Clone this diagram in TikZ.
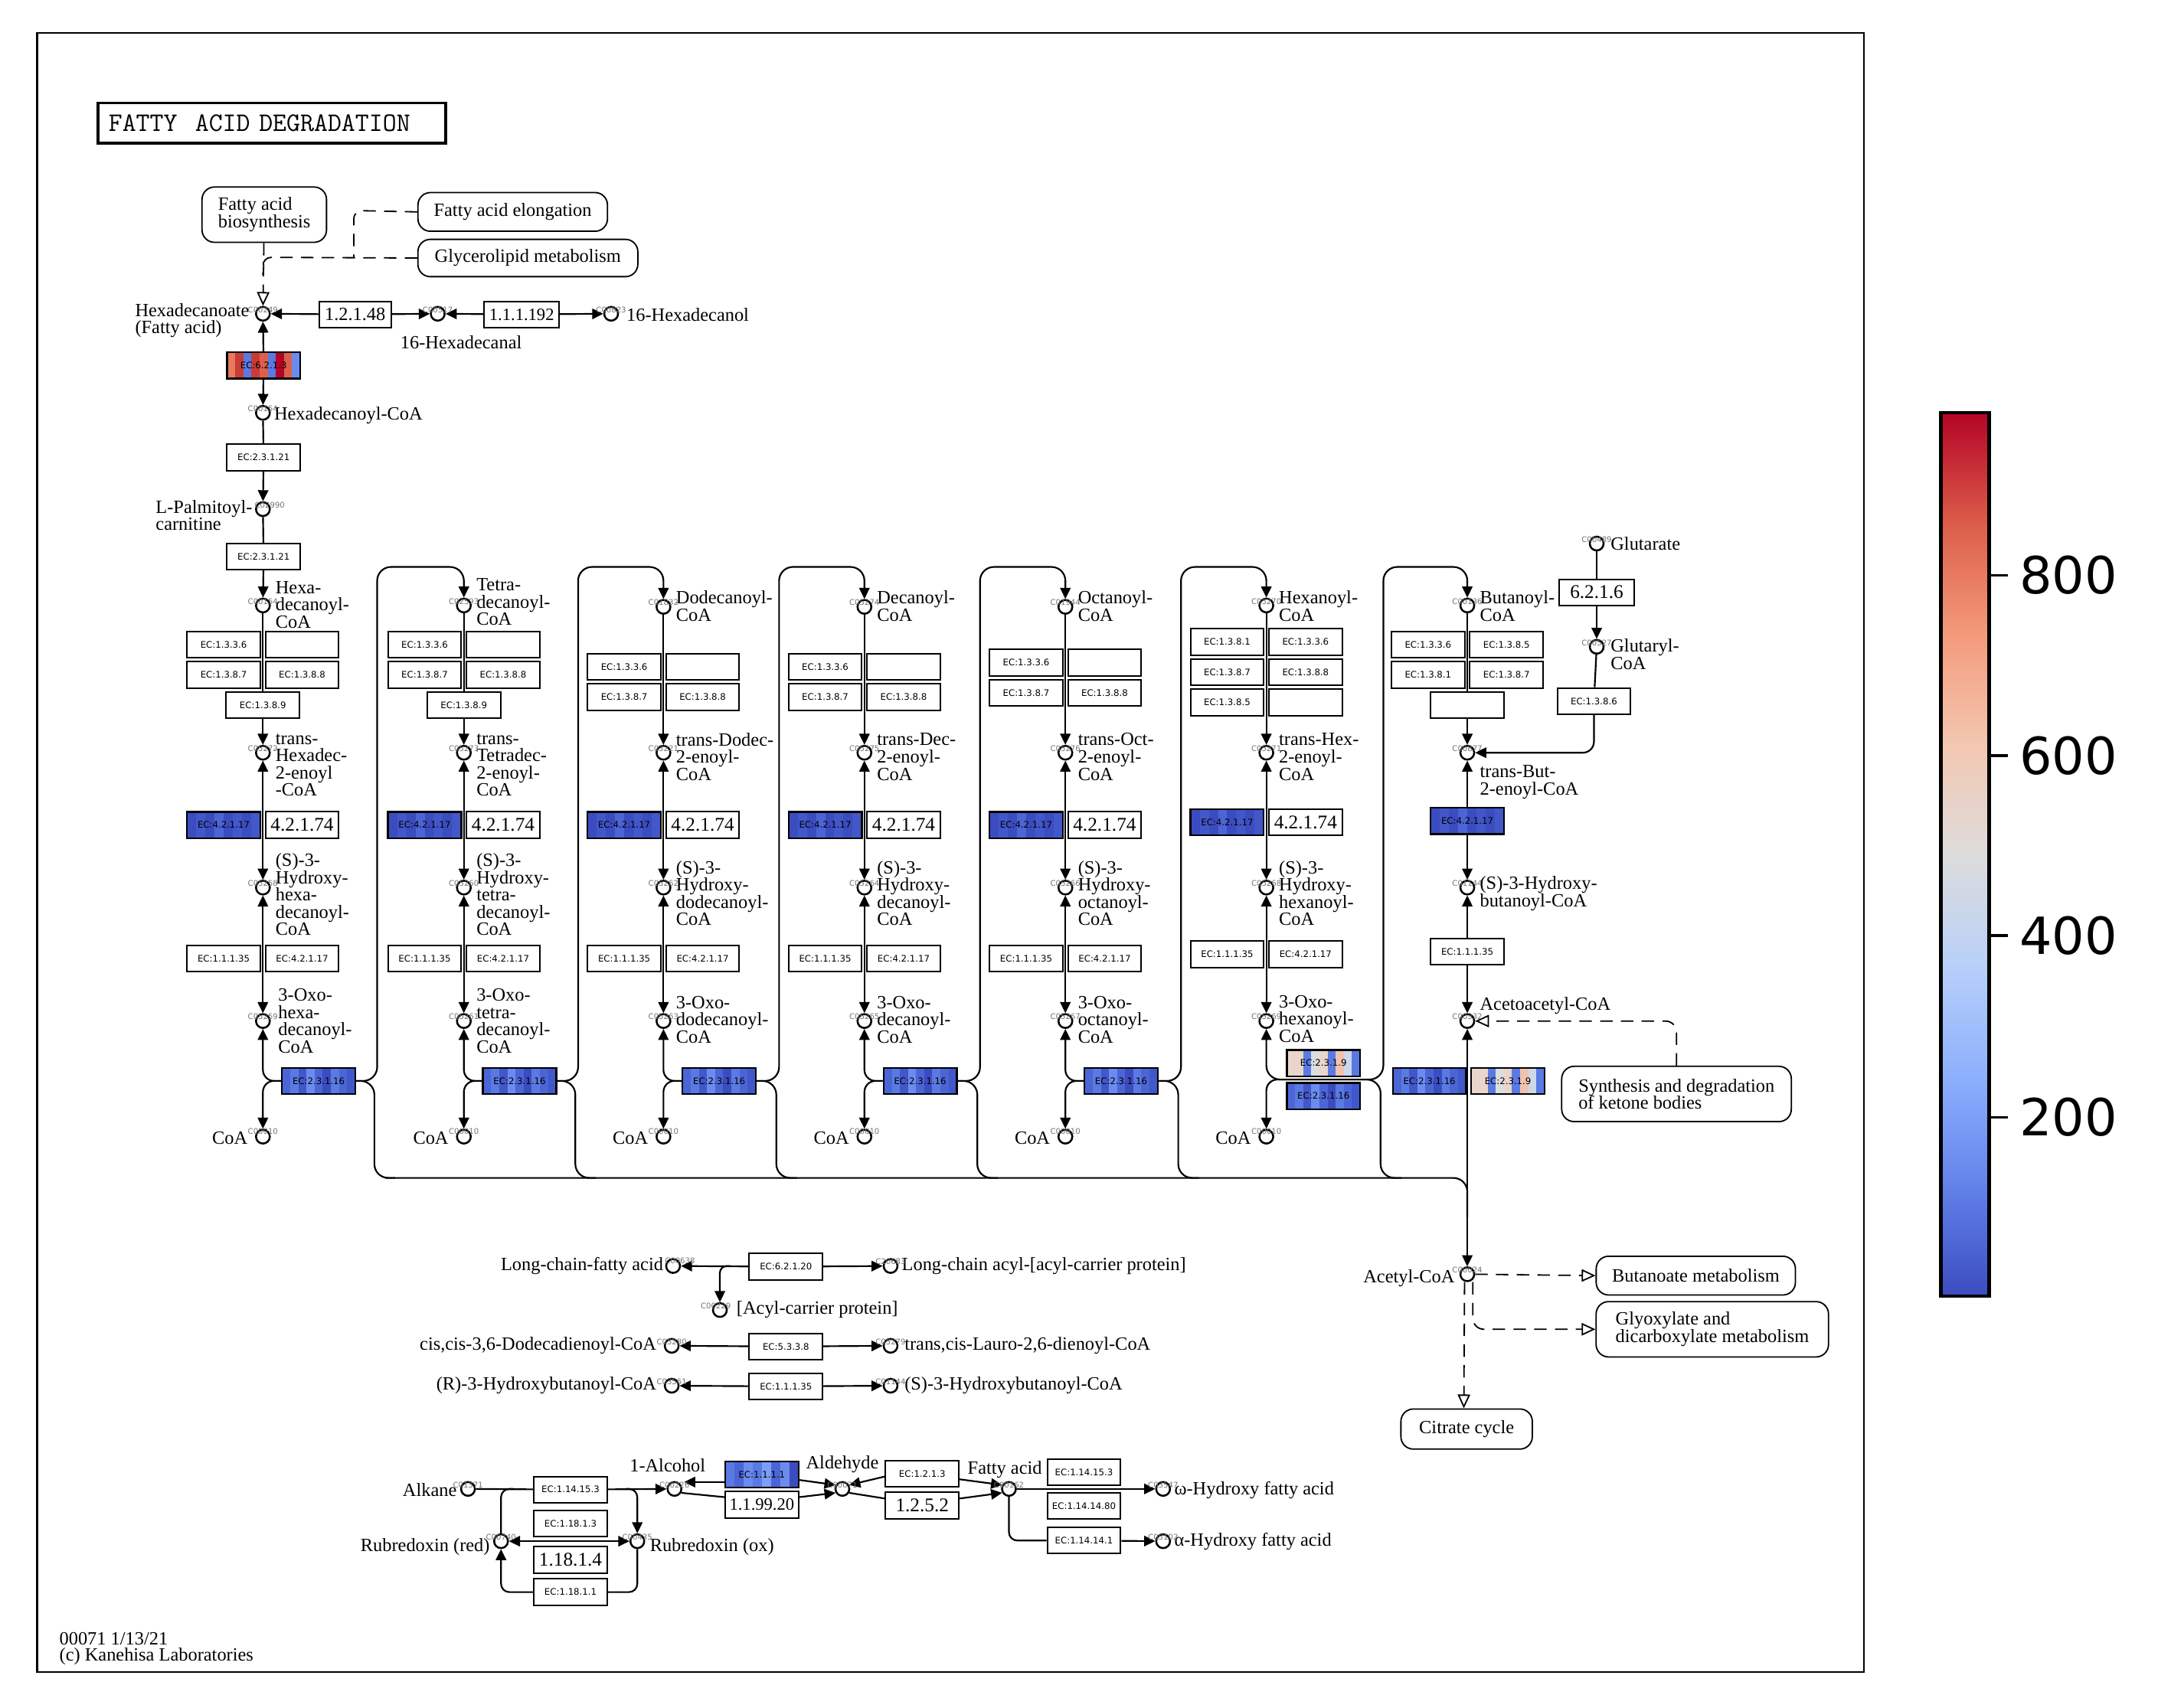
\documentclass[tikz,border=0pt]{standalone}
\usepackage{fontspec}
\setmainfont{Liberation Serif}
\newfontfamily\ecfamily{DejaVu Sans}
\usetikzlibrary{arrows.meta,positioning,backgrounds}

% expression colours (coolwarm)
\definecolor{cwba}{HTML}{3B4CC0}
\definecolor{cwbb}{HTML}{4257C9}
\definecolor{cwbc}{HTML}{4C65D6}
\definecolor{cwbd}{HTML}{5A7AE3}
\definecolor{cwbe}{HTML}{6A8CEE}
\definecolor{cwbf}{HTML}{7B9FF7}
\definecolor{cwra}{HTML}{B40426}
\definecolor{cwrb}{HTML}{C93B37}
\definecolor{cwrc}{HTML}{DD5F4B}
\definecolor{cwrd}{HTML}{E8795C}
\definecolor{cwbeige}{HTML}{E9D5CB}
\definecolor{cwgrey}{HTML}{DCDDDD}
\definecolor{cwpeach}{HTML}{EFC3AE}
\definecolor{cwgb}{HTML}{CDD8EA}
\definecolor{cmA}{HTML}{3B4CC0}
\definecolor{cmB}{HTML}{6282EA}
\definecolor{cmC}{HTML}{8DB0FE}
\definecolor{cmD}{HTML}{B8D0F9}
\definecolor{cmE}{HTML}{DDDCDC}
\definecolor{cmF}{HTML}{F3C7B1}
\definecolor{cmG}{HTML}{F49A7B}
\definecolor{cmH}{HTML}{DC5D4A}
\definecolor{cmI}{HTML}{B40426}

\newcommand{\lblfont}{\fontsize{13.5}{12.5}\selectfont}
\newcommand{\ecfont}{\ecfamily\fontsize{6.5}{7}\selectfont}
\newcommand{\numfont}{\fontsize{14}{14}\selectfont}
\newcommand{\numfontsm}{\fontsize{12.5}{12.5}\selectfont}
\newcommand{\cidfont}{\ecfamily\fontsize{5.6}{6}\selectfont}

\newcommand{\hbl}{cwba,cwbb,cwba,cwbc,cwba,cwbb,cwba,cwbb}
\newcommand{\tbl}{cwbc,cwbd,cwbb,cwbe,cwbc,cwba,cwbd,cwbc,cwbb}
\newcommand{\kbl}{cwbeige,cwbeige,cwbd,cwgrey,cwbeige,cwbd,cwpeach,cwgb,cwbd}
\newcommand{\rbl}{cwrd,cwrb,cwbd,cwrb,cwrc,cwbd,cwra,cwrc,cwbe}
\newcommand{\abl}{cwbd,cwbc,cwbe,cwbd,cwbf,cwbc,cwbe,cwba}

% striped enzyme box: name, x, y, text, colour list
\newcommand{\stripebox}[5]{%
  \foreach \cc [count=\kk] in #5 {\xdef\nstripe{\kk}}%
  \foreach \cc [count=\kk] in #5 {%
    \fill[\cc] ({#2-26.5+(\kk-1)*53/\nstripe},{#3-9.5}) rectangle +({53/\nstripe+0.4},19);}%
  \node[colbox] (#1) at (#2,#3) {#4};}

\begin{document}
\begin{tikzpicture}[x=0.995pt,y=-0.995pt,
  cpd/.style={circle,draw,line width=1.4pt,fill=white,minimum size=10pt,inner sep=0pt},
  ecbox/.style={draw,line width=1.1pt,fill=white,minimum width=53pt,minimum height=19pt,inner sep=0pt,font=\ecfont},
  numbox/.style={ecbox,font=\numfont},
  colbox/.style={draw,line width=1.3pt,minimum width=53pt,minimum height=19pt,inner sep=0pt,font=\ecfont},
  mapbox/.style={draw,line width=1pt,rounded corners=9pt,fill=white,font=\lblfont,align=left,inner sep=0pt},
  lbl/.style={font=\lblfont,align=left,inner sep=0pt,anchor=west},
  lblr/.style={font=\lblfont,align=right,inner sep=0pt,anchor=east},
  lblc/.style={font=\lblfont,inner sep=0pt},
  cid/.style={font=\cidfont,text=black!55,inner sep=0pt},
  cbl/.style={font=\ecfamily\fontsize{37}{37}\selectfont,anchor=west,inner sep=0pt},
  rxn/.style={line width=1.2pt},
  link/.style={line width=1pt,dash pattern=on 9pt off 6pt},
  mapto/.style={-{Triangle[open,length=10pt,width=9pt]}},
  >={Triangle[length=8pt,width=7.5pt]}]
\useasboundingbox (0,0) rectangle (1567.8,1241.2);
\draw[line width=1.2pt] (27,24) rectangle (1354,1215);
\node[draw,line width=2pt,minimum height=29pt,inner xsep=7.5pt,text width=236pt,font=\ttfamily\fontsize{19.3}{19.3}\selectfont] (title) at (197.5,89.5) {FATTY\ \ ACID DEGRADATION};

% hexadecanoate
\node[mapbox,minimum width=90pt,minimum height=40pt] (fab) at (192,156) {Fatty acid\\biosynthesis};
\node[mapbox,minimum width=137pt,minimum height=28pt] (fae) at (372.5,154) {Fatty acid elongation};
\node[mapbox,minimum width=159pt,minimum height=27pt] (glm) at (383.5,187.5) {Glycerolipid metabolism};
\node[cpd] (hda) at (191,228) {};
\node[cpd] (hdal) at (318,228) {};
\node[cpd] (hdol) at (444,228) {};
\node[numbox,minimum width=52pt,font=\fontsize{13.5}{13.5}\selectfont] (r1) at (258,228.5) {1.2.1.48};
\node[numbox,minimum width=54pt,font=\numfontsm] (r2) at (379,228.5) {1.1.1.192};
\node[lbl] (lhda) at (98,233) {Hexadecanoate\\(Fatty acid)};
\node[lblc] (lhdal) at (335,249) {16-Hexadecanal};
\node[lbl] (lhdol) at (455,229) {16-Hexadecanol};
\stripebox{e6213}{191.5}{265.5}{EC:6.2.1.3}{\rbl}
\node[cpd] (hdcoa) at (191,300) {};
\node[lbl] (lhdcoa) at (199,302) {Hexadecanoyl-CoA};
\node[ecbox] (e23121a) at (191.5,332.5) {EC:2.3.1.21};
\node[cpd] (palm) at (191,370) {};
\node[lbl] (lpalm) at (113,374.5) {L-Palmitoyl-\\carnitine};
\node[ecbox] (e23121b) at (191.5,404.5) {EC:2.3.1.21};

% column 1
\node[cpd] (c1a) at (191,440) {};
\node[cpd] (c1t) at (191,547) {};
\node[cpd] (c1h) at (191,645) {};
\node[cpd] (c1o) at (191,742) {};
\node[cpd] (c1c) at (191,826) {};
\node[ecbox] (b1a) at (162.5,468.5) {EC:1.3.3.6};
\node[ecbox] (b1b) at (219.5,468.5) {};
\node[ecbox] (b1c) at (162.5,490.5) {EC:1.3.8.7};
\node[ecbox] (b1d) at (219.5,490.5) {EC:1.3.8.8};
\node[ecbox] (b1e) at (191,512.5) {EC:1.3.8.9};
\stripebox{h1}{162.5}{599.5}{EC:4.2.1.17}{\hbl}
\node[numbox] (n1) at (219.5,599.5) {4.2.1.74};
\node[ecbox] (d1a) at (162.5,696.5) {EC:1.1.1.35};
\node[ecbox] (d1b) at (219.5,696.5) {EC:4.2.1.17};
\stripebox{t1}{231.5}{785.5}{EC:2.3.1.16}{\tbl}
\node[lbl] (l1a) at (200,439.5) {Hexa-\\decanoyl-\\CoA};
\node[lbl] (l1t) at (200,556) {trans-\\Hexadec-\\2-enoyl\\-CoA};
\node[lbl] (l1h) at (200,650) {(S)-3-\\Hydroxy-\\hexa-\\decanoyl-\\CoA};
\node[lbl] (l1o) at (202,742) {3-Oxo-\\hexa-\\decanoyl-\\CoA};
\node[lblr] (l1c) at (180,827) {CoA};

% column 2
\node[cpd] (c2a) at (337,440) {};
\node[cpd] (c2t) at (337,547) {};
\node[cpd] (c2h) at (337,645) {};
\node[cpd] (c2o) at (337,742) {};
\node[cpd] (c2c) at (337,826) {};
\node[ecbox] (b2a) at (308.5,468.5) {EC:1.3.3.6};
\node[ecbox] (b2b) at (365.5,468.5) {};
\node[ecbox] (b2c) at (308.5,490.5) {EC:1.3.8.7};
\node[ecbox] (b2d) at (365.5,490.5) {EC:1.3.8.8};
\node[ecbox] (b2e) at (337,512.5) {EC:1.3.8.9};
\stripebox{h2}{308.5}{599.5}{EC:4.2.1.17}{\hbl}
\node[numbox] (n2) at (365.5,599.5) {4.2.1.74};
\node[ecbox] (d2a) at (308.5,696.5) {EC:1.1.1.35};
\node[ecbox] (d2b) at (365.5,696.5) {EC:4.2.1.17};
\stripebox{t2}{377.5}{785.5}{EC:2.3.1.16}{\tbl}
\node[lbl] (l2a) at (346,437.5) {Tetra-\\decanoyl-\\CoA};
\node[lbl] (l2t) at (346,556) {trans-\\Tetradec-\\2-enoyl-\\CoA};
\node[lbl] (l2h) at (346,650) {(S)-3-\\Hydroxy-\\tetra-\\decanoyl-\\CoA};
\node[lbl] (l2o) at (346,742) {3-Oxo-\\tetra-\\decanoyl-\\CoA};
\node[lblr] (l2c) at (326,827) {CoA};

% column 3
\node[cpd] (c3a) at (482,441) {};
\node[cpd] (c3t) at (482,547) {};
\node[cpd] (c3h) at (482,645) {};
\node[cpd] (c3o) at (482,742) {};
\node[cpd] (c3c) at (482,826) {};
\node[ecbox] (b3a) at (453.5,484.5) {EC:1.3.3.6};
\node[ecbox] (b3b) at (510.5,484.5) {};
\node[ecbox] (b3c) at (453.5,506.5) {EC:1.3.8.7};
\node[ecbox] (b3d) at (510.5,506.5) {EC:1.3.8.8};
\stripebox{h3}{453.5}{599.5}{EC:4.2.1.17}{\hbl}
\node[numbox] (n3) at (510.5,599.5) {4.2.1.74};
\node[ecbox] (d3a) at (453.5,696.5) {EC:1.1.1.35};
\node[ecbox] (d3b) at (510.5,696.5) {EC:4.2.1.17};
\stripebox{t3}{522.5}{785.5}{EC:2.3.1.16}{\tbl}
\node[lbl] (l3a) at (491,440.5) {Dodecanoyl-\\CoA};
\node[lbl] (l3t) at (491,550) {trans-Dodec-\\2-enoyl-\\CoA};
\node[lbl] (l3h) at (491,649) {(S)-3-\\Hydroxy-\\dodecanoyl-\\CoA};
\node[lbl] (l3o) at (491,741) {3-Oxo-\\dodecanoyl-\\CoA};
\node[lblr] (l3c) at (471,827) {CoA};

% column 4
\node[cpd] (c4a) at (628,441) {};
\node[cpd] (c4t) at (628,547) {};
\node[cpd] (c4h) at (628,645) {};
\node[cpd] (c4o) at (628,742) {};
\node[cpd] (c4c) at (628,826) {};
\node[ecbox] (b4a) at (599.5,484.5) {EC:1.3.3.6};
\node[ecbox] (b4b) at (656.5,484.5) {};
\node[ecbox] (b4c) at (599.5,506.5) {EC:1.3.8.7};
\node[ecbox] (b4d) at (656.5,506.5) {EC:1.3.8.8};
\stripebox{h4}{599.5}{599.5}{EC:4.2.1.17}{\hbl}
\node[numbox] (n4) at (656.5,599.5) {4.2.1.74};
\node[ecbox] (d4a) at (599.5,696.5) {EC:1.1.1.35};
\node[ecbox] (d4b) at (656.5,696.5) {EC:4.2.1.17};
\stripebox{t4}{668.5}{785.5}{EC:2.3.1.16}{\tbl}
\node[lbl] (l4a) at (637,440.5) {Decanoyl-\\CoA};
\node[lbl] (l4t) at (637,550) {trans-Dec-\\2-enoyl-\\CoA};
\node[lbl] (l4h) at (637,649) {(S)-3-\\Hydroxy-\\decanoyl-\\CoA};
\node[lbl] (l4o) at (637,741) {3-Oxo-\\decanoyl-\\CoA};
\node[lblr] (l4c) at (617,827) {CoA};

% column 5
\node[cpd] (c5a) at (774,441) {};
\node[cpd] (c5t) at (774,547) {};
\node[cpd] (c5h) at (774,645) {};
\node[cpd] (c5o) at (774,742) {};
\node[cpd] (c5c) at (774,826) {};
\node[ecbox] (b5a) at (745.5,481.5) {EC:1.3.3.6};
\node[ecbox] (b5b) at (802.5,481.5) {};
\node[ecbox] (b5c) at (745.5,503.5) {EC:1.3.8.7};
\node[ecbox] (b5d) at (802.5,503.5) {EC:1.3.8.8};
\stripebox{h5}{745.5}{599.5}{EC:4.2.1.17}{\hbl}
\node[numbox] (n5) at (802.5,599.5) {4.2.1.74};
\node[ecbox] (d5a) at (745.5,696.5) {EC:1.1.1.35};
\node[ecbox] (d5b) at (802.5,696.5) {EC:4.2.1.17};
\stripebox{t5}{814.5}{785.5}{EC:2.3.1.16}{\tbl}
\node[lbl] (l5a) at (783,440.5) {Octanoyl-\\CoA};
\node[lbl] (l5t) at (783,550) {trans-Oct-\\2-enoyl-\\CoA};
\node[lbl] (l5h) at (783,649) {(S)-3-\\Hydroxy-\\octanoyl-\\CoA};
\node[lbl] (l5o) at (783,741) {3-Oxo-\\octanoyl-\\CoA};
\node[lblr] (l5c) at (763,827) {CoA};

% column 6
\node[cpd] (c6a) at (920,440) {};
\node[cpd] (c6t) at (920,547) {};
\node[cpd] (c6h) at (920,645) {};
\node[cpd] (c6o) at (920,742) {};
\node[cpd] (c6c) at (920,826) {};
\node[ecbox] (b6a) at (891.5,466.5) {EC:1.3.8.1};
\node[ecbox] (b6b) at (948.5,466.5) {EC:1.3.3.6};
\node[ecbox] (b6c) at (891.5,488.5) {EC:1.3.8.7};
\node[ecbox] (b6d) at (948.5,488.5) {EC:1.3.8.8};
\node[ecbox] (b6e) at (891.5,510.5) {EC:1.3.8.5};
\node[ecbox] (b6f) at (948.5,510.5) {};
\stripebox{h6}{891.5}{597.5}{EC:4.2.1.17}{\hbl}
\node[numbox] (n6) at (948.5,597.5) {4.2.1.74};
\node[ecbox] (d6a) at (891.5,693.5) {EC:1.1.1.35};
\node[ecbox] (d6b) at (948.5,693.5) {EC:4.2.1.17};
\stripebox{t6a}{961.5}{772.5}{EC:2.3.1.9}{\kbl}
\stripebox{t6b}{961.5}{796.5}{EC:2.3.1.16}{\tbl}
\node[lbl] (l6a) at (929,440.5) {Hexanoyl-\\CoA};
\node[lbl] (l6t) at (929,550) {trans-Hex-\\2-enoyl-\\CoA};
\node[lbl] (l6h) at (929,649) {(S)-3-\\Hydroxy-\\hexanoyl-\\CoA};
\node[lbl] (l6o) at (929,740.5) {3-Oxo-\\hexanoyl-\\CoA};
\node[lblr] (l6c) at (909,827) {CoA};

% column 7
\node[cpd] (c7a) at (1066,440) {};
\node[cpd] (c7t) at (1066,547) {};
\node[cpd] (c7h) at (1066,645) {};
\node[cpd] (c7o) at (1066,742) {};
\node[cpd] (acetyl) at (1066,926) {};
\node[ecbox] (b7a) at (1037.5,468.5) {EC:1.3.3.6};
\node[ecbox] (b7b) at (1094.5,468.5) {EC:1.3.8.5};
\node[ecbox] (b7c) at (1037.5,490.5) {EC:1.3.8.1};
\node[ecbox] (b7d) at (1094.5,490.5) {EC:1.3.8.7};
\node[ecbox] (b7e) at (1066,512.5) {};
\stripebox{h7}{1066}{596.5}{EC:4.2.1.17}{\hbl}
\node[ecbox] (d7) at (1066,691.5) {EC:1.1.1.35};
\stripebox{t7a}{1038.5}{785.5}{EC:2.3.1.16}{\tbl}
\stripebox{t7b}{1095.5}{785.5}{EC:2.3.1.9}{\kbl}
\node[lbl] (l7a) at (1075,440.5) {Butanoyl-\\CoA};
\node[lbl] (l7t) at (1075,568.5) {trans-But-\\2-enoyl-CoA};
\node[lbl] (l7h) at (1075,649.5) {(S)-3-Hydroxy-\\butanoyl-CoA};
\node[lbl] (l7o) at (1075,731) {Acetoacetyl-CoA};
\node[lblr] (lacetyl) at (1057,929) {Acetyl-CoA};
\node[cpd] (glut) at (1160,395) {};
\node[numbox,minimum width=54pt] (e6216) at (1160,430.5) {6.2.1.6};
\node[cpd] (glutcoa) at (1160,470) {};
\node[ecbox] (e1386) at (1158,509.5) {EC:1.3.8.6};
\node[lbl] (lglut) at (1170,395) {Glutarate};
\node[lbl] (lglutcoa) at (1170,475.5) {Glutaryl-\\CoA};

% linked maps on the right
\node[mapbox,minimum width=166pt,minimum height=40pt] (keto) at (1218,795) {Synthesis and degradation\\of ketone bodies};
\node[mapbox,minimum width=144pt,minimum height=28pt] (buta) at (1232,927) {Butanoate metabolism};
\node[mapbox,minimum width=168pt,minimum height=40pt] (glyox) at (1244,966) {Glyoxylate and\\dicarboxylate metabolism};
\node[mapbox,minimum width=95pt,minimum height=29pt] (citrate) at (1065.5,1038.5) {Citrate cycle};

% side reactions
\node[cpd] (lcfa) at (489,920) {};
\node[ecbox] (e62120) at (571,920.5) {EC:6.2.1.20};
\node[cpd] (lcacp) at (647,920) {};
\node[cpd] (acp) at (523,952) {};
\node[cpd] (ccd) at (488,978) {};
\node[ecbox] (e5338) at (571,978.5) {EC:5.3.3.8};
\node[cpd] (tcl) at (647,978) {};
\node[cpd] (rhb) at (488,1007) {};
\node[ecbox] (e11135) at (571,1007.5) {EC:1.1.1.35};
\node[cpd] (shb) at (647,1007) {};
\node[lblr] (llcfa) at (482,920) {Long-chain-fatty acid};
\node[lbl] (llcacp) at (655,920) {Long-chain acyl-[acyl-carrier protein]};
\node[lbl] (lacp) at (535,952) {[Acyl-carrier protein]};
\node[lblr] (lccd) at (477,978) {cis,cis-3,6-Dodecadienoyl-CoA};
\node[lbl] (ltcl) at (657,978) {trans,cis-Lauro-2,6-dienoyl-CoA};
\node[lblr] (lrhb) at (477,1007) {(R)-3-Hydroxybutanoyl-CoA};
\node[lbl] (lshb) at (657,1007) {(S)-3-Hydroxybutanoyl-CoA};

% alkane oxidation
\node[cpd] (alk) at (340,1082) {};
\node[lblr] (lalk) at (332,1083) {Alkane};
\node[ecbox] (e141531) at (414.5,1082.5) {EC:1.14.15.3};
\node[ecbox] (e18113) at (414.5,1107) {EC:1.18.1.3};
\node[numbox] (n11814) at (414.5,1133.5) {1.18.1.4};
\node[ecbox] (e18111) at (414.5,1157) {EC:1.18.1.1};
\node[cpd] (rred) at (364,1120) {};
\node[cpd] (rox) at (463,1120) {};
\node[lblr] (lrred) at (356,1124) {Rubredoxin (red)};
\node[lbl] (lrox) at (472,1124) {Rubredoxin (ox)};
\node[cpd] (alc) at (490,1082) {};
\node[lblc] (lalc) at (485,1065) {1-Alcohol};
\stripebox{e1111}{553.5}{1071.5}{EC:1.1.1.1}{\abl}
\node[numbox,font=\numfontsm] (n119920) at (553.5,1093.5) {1.1.99.20};
\node[cpd] (ald) at (612,1082) {};
\node[lblc] (lald) at (612,1064) {Aldehyde};
\node[ecbox] (e1213) at (670,1071) {EC:1.2.1.3};
\node[numbox] (n1252) at (670,1094) {1.2.5.2};
\node[cpd] (fa) at (733,1082) {};
\node[lblc] (lfa) at (730,1068) {Fatty acid};
\node[ecbox] (e141531b) at (787.5,1070) {EC:1.14.15.3};
\node[ecbox] (e141480) at (787.5,1094.5) {EC:1.14.14.80};
\node[ecbox] (e14141) at (787.5,1119.5) {EC:1.14.14.1};
\node[cpd] (omega) at (845,1082) {};
\node[cpd] (alpha) at (845,1120) {};
\node[lbl] (lomega) at (853,1083) {ω-Hydroxy fatty acid};
\node[lbl] (lalpha) at (853,1120) {α-Hydroxy fatty acid};

% compound ids
\node[cid] (ihda) at (191,225) {C00249}; \node[cid] (ihdal) at (318,225) {C00517}; \node[cid] (ihdol) at (444,225) {C00823};
\node[cid] (ihdcoa) at (191,297) {C00154}; \node[cid] (ipalm) at (196,367) {C02990};
\node[cid] (i1a) at (191,437) {C00154}; \node[cid] (i1t) at (191,544) {C05272}; \node[cid] (i1h) at (191,642) {C05258}; \node[cid] (i1o) at (191,739) {C05259}; \node[cid] (i1c) at (191,822) {C00010};
\node[cid] (i2a) at (337,437) {C02593}; \node[cid] (i2t) at (337,544) {C05273}; \node[cid] (i2h) at (337,642) {C05260}; \node[cid] (i2o) at (337,739) {C05261}; \node[cid] (i2c) at (337,822) {C00010};
\node[cid] (i3a) at (482,438) {C01832}; \node[cid] (i3t) at (482,544) {C03221}; \node[cid] (i3h) at (482,642) {C05262}; \node[cid] (i3o) at (482,739) {C05263}; \node[cid] (i3c) at (482,822) {C00010};
\node[cid] (i4a) at (628,438) {C05274}; \node[cid] (i4t) at (628,544) {C05275}; \node[cid] (i4h) at (628,642) {C05264}; \node[cid] (i4o) at (628,739) {C05265}; \node[cid] (i4c) at (628,822) {C00010};
\node[cid] (i5a) at (774,438) {C01944}; \node[cid] (i5t) at (774,544) {C05276}; \node[cid] (i5h) at (774,642) {C05266}; \node[cid] (i5o) at (774,739) {C05267}; \node[cid] (i5c) at (774,822) {C00010};
\node[cid] (i6a) at (920,437) {C05270}; \node[cid] (i6t) at (920,544) {C05271}; \node[cid] (i6h) at (920,642) {C05268}; \node[cid] (i6o) at (920,739) {C05269}; \node[cid] (i6c) at (920,822) {C00010};
\node[cid] (i7a) at (1066,437) {C00136}; \node[cid] (i7t) at (1066,544) {C00877}; \node[cid] (i7h) at (1066,642) {C01144}; \node[cid] (i7o) at (1066,739) {C00332};
\node[cid] (iglut) at (1160,392) {C00489}; \node[cid] (iglutcoa) at (1160,467) {C00527}; \node[cid] (iacetyl) at (1066,923) {C00024};
\node[cid] (ilcfa) at (494,916) {C00638}; \node[cid] (ilcacp) at (647,917) {C20683}; \node[cid] (iacp) at (520,949) {C00229};
\node[cid] (iccd) at (488,975) {C05280}; \node[cid] (itcl) at (647,975) {C05279}; \node[cid] (irhb) at (488,1004) {C03561}; \node[cid] (ishb) at (647,1004) {C01144};
\node[cid] (ialk) at (340,1079) {C01371}; \node[cid] (irred) at (364,1117) {C00740}; \node[cid] (irox) at (463,1117) {C00435};
\node[cid] (ialc) at (490,1079) {C00226}; \node[cid] (iald) at (612,1079) {C00071}; \node[cid] (ifa) at (733,1079) {C00162};
\node[cid] (iomega) at (845,1079) {C03547}; \node[cid] (ialpha) at (845,1117) {C05102};

% footer
\node[lbl] (ver) at (43,1191) {00071 1/13/21};
\node[lbl] (copy) at (43,1204) {(c) Kanehisa Laboratories};

% colour scale
\shade[bottom color=cmA,top color=cmB] (1410,942) rectangle (1445,861.75);
\shade[bottom color=cmB,top color=cmC] (1410,862) rectangle (1445,781.5);
\shade[bottom color=cmC,top color=cmD] (1410,782) rectangle (1445,701.25);
\shade[bottom color=cmD,top color=cmE] (1410,702) rectangle (1445,621);
\shade[bottom color=cmE,top color=cmF] (1410,621.5) rectangle (1445,540.75);
\shade[bottom color=cmF,top color=cmG] (1410,541.5) rectangle (1445,460.5);
\shade[bottom color=cmG,top color=cmH] (1410,461) rectangle (1445,380.25);
\shade[bottom color=cmH,top color=cmI] (1410,381) rectangle (1445,300);
\draw[line width=2.5pt] (1410,300) rectangle (1445,942);
\draw[line width=2pt] (1445,418) -- (1459,418);
\draw[line width=2pt] (1445,549) -- (1459,549);
\draw[line width=2pt] (1445,680) -- (1459,680);
\draw[line width=2pt] (1445,812) -- (1459,812);
\node[cbl] (v800) at (1467,418) {800};
\node[cbl] (v600) at (1467,549) {600};
\node[cbl] (v400) at (1467,680) {400};
\node[cbl] (v200) at (1467,812) {200};

\coordinate (dj1) at (257,187);
\coordinate (dj2) at (191,200);
\coordinate (bus0) at (280,856);
\coordinate (bus1) at (1066,885);
\coordinate (m6) at (936,784.5);
\coordinate (acpj) at (531,920);
\coordinate (aj1) at (373,1082);
\coordinate (aj2) at (455,1082);
\coordinate (alcu) at (497,1077);

\begin{scope}[on background layer]
% entry
\draw[link,mapto] (fab) -- (hda);
\draw[link,rounded corners=6pt] (fae.west) -- (257,153) -- (dj1);
\draw[link,rounded corners=6pt] (glm.west) -- (191,187) -- (dj2);
\draw[rxn,->] (r1) -- (hda);
\draw[rxn,->] (r1) -- (hdal);
\draw[rxn,->] (r2) -- (hdal);
\draw[rxn,->] (r2) -- (hdol);
\draw[rxn,->] (e6213) -- (hda);
\draw[rxn,->] (e6213) -- (hdcoa);
\draw[rxn] (hdcoa) -- (e23121a);
\draw[rxn,->] (e23121a) -- (palm);
\draw[rxn] (palm) -- (e23121b);
\draw[rxn,->] (e23121b) -- (c1a);
% beta-oxidation spiral
\draw[rxn,->] (c1a) -- (c1t); \draw[rxn,<->] (c1t) -- (c1h); \draw[rxn,<->] (c1h) -- (c1o);
\draw[rxn,->] (c2a) -- (c2t); \draw[rxn,<->] (c2t) -- (c2h); \draw[rxn,<->] (c2h) -- (c2o);
\draw[rxn,->] (c3a) -- (c3t); \draw[rxn,<->] (c3t) -- (c3h); \draw[rxn,<->] (c3h) -- (c3o);
\draw[rxn,->] (c4a) -- (c4t); \draw[rxn,<->] (c4t) -- (c4h); \draw[rxn,<->] (c4h) -- (c4o);
\draw[rxn,->] (c5a) -- (c5t); \draw[rxn,<->] (c5t) -- (c5h); \draw[rxn,<->] (c5h) -- (c5o);
\draw[rxn,->] (c6a) -- (c6t); \draw[rxn,<->] (c6t) -- (c6h); \draw[rxn,<->] (c6h) -- (c6o);
\draw[rxn,->] (c7a) -- (c7t); \draw[rxn,<->] (c7t) -- (c7h); \draw[rxn,<->] (c7h) -- (c7o);
\draw[rxn,<-,rounded corners=8pt] (c1o) |- (t1.west); \draw[rxn,->,rounded corners=8pt] (t1.west) -| (c1c);
\draw[rxn,<-,rounded corners=8pt] (c2o) |- (t2.west); \draw[rxn,->,rounded corners=8pt] (t2.west) -| (c2c);
\draw[rxn,<-,rounded corners=8pt] (c3o) |- (t3.west); \draw[rxn,->,rounded corners=8pt] (t3.west) -| (c3c);
\draw[rxn,<-,rounded corners=8pt] (c4o) |- (t4.west); \draw[rxn,->,rounded corners=8pt] (t4.west) -| (c4c);
\draw[rxn,<-,rounded corners=8pt] (c5o) |- (t5.west); \draw[rxn,->,rounded corners=8pt] (t5.west) -| (c5c);
\draw[rxn,->,rounded corners=10pt] (t1.east) -- (274,785.5) -- (274,412) -- (337,412) -- (c2a);
\draw[rxn,->,rounded corners=10pt] (t2.east) -- (420,785.5) -- (420,412) -- (482,412) -- (c3a);
\draw[rxn,->,rounded corners=10pt] (t3.east) -- (566,785.5) -- (566,412) -- (628,412) -- (c4a);
\draw[rxn,->,rounded corners=10pt] (t4.east) -- (712,785.5) -- (712,412) -- (774,412) -- (c5a);
\draw[rxn,->,rounded corners=10pt] (t5.east) -- (858,785.5) -- (858,412) -- (920,412) -- (c6a);
\draw[rxn,<->,rounded corners=10pt] (c6o) |- (1005,784.5) -- (1005,412) -- (1066,412) -- (c7a);
\draw[rxn,->,rounded corners=8pt] (m6) -| (c6c);
\draw[rxn,rounded corners=10pt] (t1.east) -- (272,785.5) -- (272,856) -- (287,856);
\draw[rxn,rounded corners=10pt] (t2.east) -- (418,785.5) -- (418,856) -- (433,856);
\draw[rxn,rounded corners=10pt] (t3.east) -- (564,785.5) -- (564,856) -- (579,856);
\draw[rxn,rounded corners=10pt] (t4.east) -- (710,785.5) -- (710,856) -- (725,856);
\draw[rxn,rounded corners=10pt] (t5.east) -- (856,785.5) -- (856,856) -- (871,856);
\draw[rxn,rounded corners=10pt] (m6) -- (1003,784.5) -- (1003,856) -- (1018,856);
\draw[rxn,rounded corners=10pt] (bus0) -- (1066,856) -- (bus1);
\draw[rxn,<->] (c7o) -- (acetyl);
\draw[rxn] (glut) -- (e6216);
\draw[rxn,->] (e6216) -- (glutcoa);
\draw[rxn] (glutcoa) -- (e1386);
\draw[rxn,->,rounded corners=8pt] (e1386) |- (c7t);
% linked maps
\draw[link,mapto,rounded corners=8pt] (keto.north) |- (c7o);
\draw[link,mapto] (acetyl.east) -- (buta.west);
\draw[link,mapto,rounded corners=8pt] ([xshift=4pt]acetyl.south) |- (glyox.west);
\draw[link,mapto] ([xshift=-2pt]acetyl.south) -- ([xshift=-2pt]citrate.north);
% side reactions
\draw[rxn,->] (e62120) -- (lcfa);
\draw[rxn,->] (e62120) -- (lcacp);
\draw[rxn,->,rounded corners=5pt] (acpj) -| (acp);
\draw[rxn,->] (e5338) -- (ccd);
\draw[rxn,->] (e5338) -- (tcl);
\draw[rxn,->] (e11135) -- (rhb);
\draw[rxn,->] (e11135) -- (shb);
% alkane
\draw[rxn] (alk) -- (e141531);
\draw[rxn,->] (e141531) -- (alc);
\draw[rxn,rounded corners=6pt] (aj1) -| (rred);
\draw[rxn,->,rounded corners=6pt] (aj2) -| (rox);
\draw[rxn,<->] (rred) -- (rox);
\draw[rxn,rounded corners=6pt] (rox) |- (e18111);
\draw[rxn,->,rounded corners=6pt] (e18111) -| (rred);
\draw[rxn,->] ([yshift=-5.5pt]e1111.west) -- (alcu);
\draw[rxn] (alc.-30) -- ([yshift=5.5pt]n119920.west);
\draw[rxn,->] ([yshift=-4pt]e1111.east) -- (ald.150);
\draw[rxn,->] ([yshift=5.5pt]n119920.east) -- (ald.-150);
\draw[rxn,->] ([yshift=-2pt]e1213.west) -- (ald.30);
\draw[rxn,->] ([yshift=-4pt]e1213.east) -- (fa.150);
\draw[rxn] (ald.-30) -- ([yshift=5pt]n1252.west);
\draw[rxn,->] ([yshift=5pt]n1252.east) -- (fa.-150);
\draw[rxn,->] (fa) -- (omega);
\draw[rxn,rounded corners=6pt] (fa) |- (e14141);
\draw[rxn,->] (e14141) -- (alpha);
\end{scope}
\end{tikzpicture}
\end{document}
